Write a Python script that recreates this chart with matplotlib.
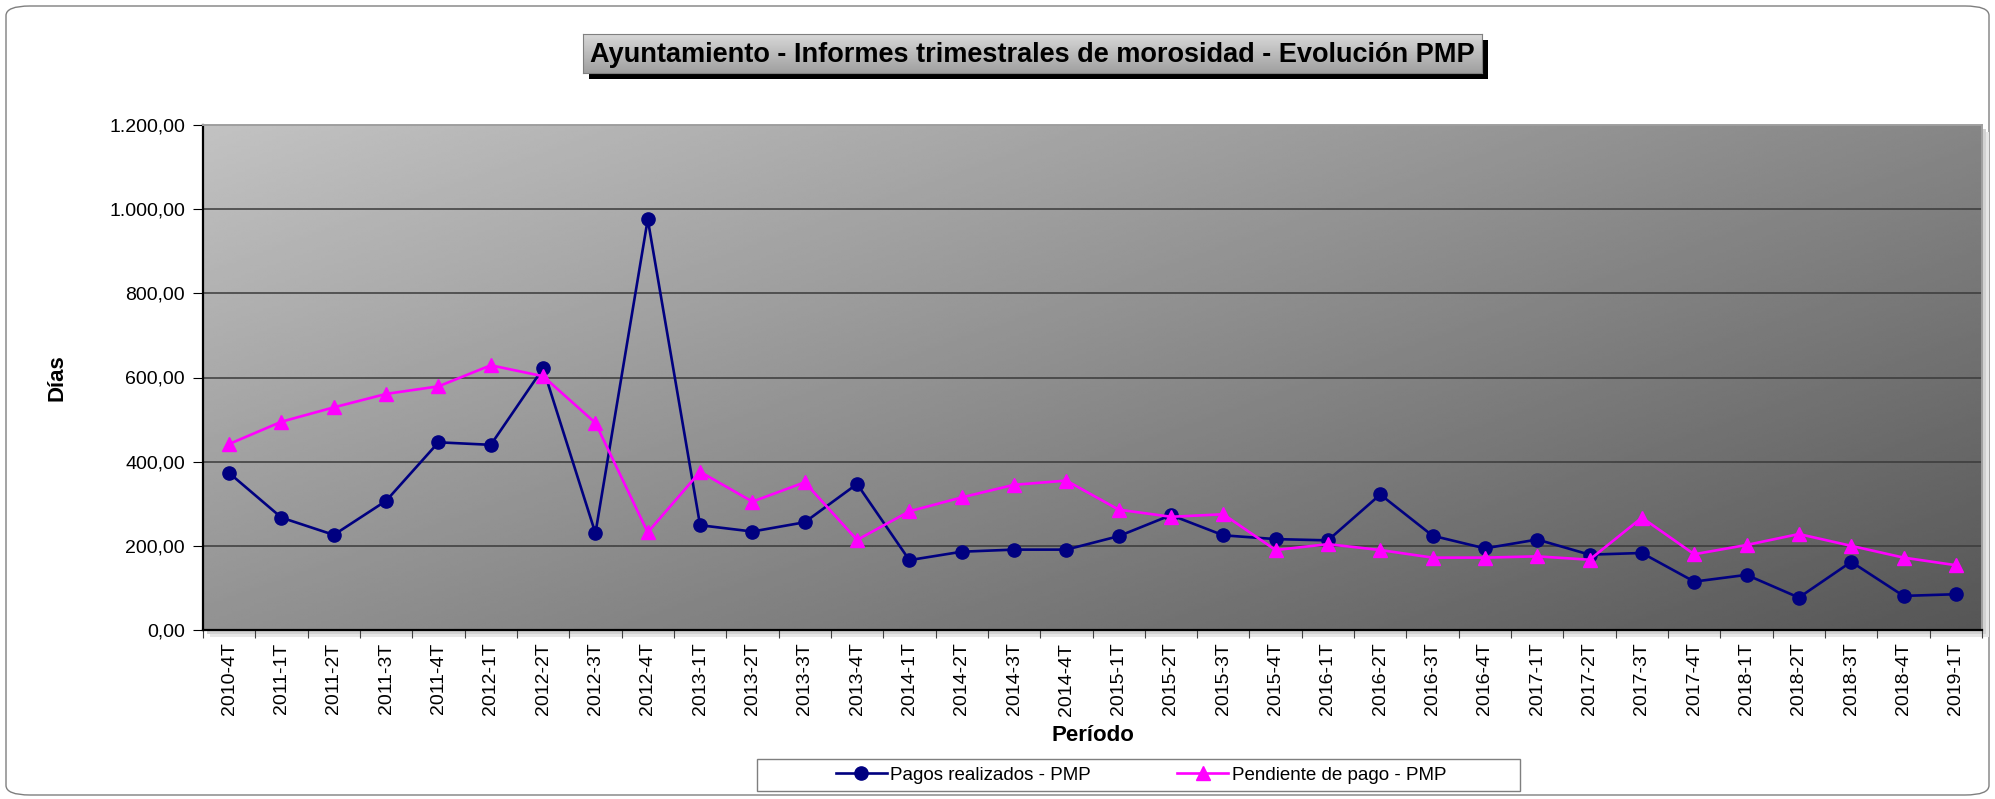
import numpy as np
import matplotlib
matplotlib.use("Agg")
import matplotlib.pyplot as plt
from matplotlib.patches import FancyBboxPatch, Rectangle
from matplotlib.ticker import FuncFormatter, FixedLocator

plt.rcParams["font.family"] = ["Liberation Sans", "DejaVu Sans"]

# --- data ---
periodos = ["2010-4T",
            "2011-1T", "2011-2T", "2011-3T", "2011-4T",
            "2012-1T", "2012-2T", "2012-3T", "2012-4T",
            "2013-1T", "2013-2T", "2013-3T", "2013-4T",
            "2014-1T", "2014-2T", "2014-3T", "2014-4T",
            "2015-1T", "2015-2T", "2015-3T", "2015-4T",
            "2016-1T", "2016-2T", "2016-3T", "2016-4T",
            "2017-1T", "2017-2T", "2017-3T", "2017-4T",
            "2018-1T", "2018-2T", "2018-3T", "2018-4T",
            "2019-1T"]
pagos_realizados = [373, 267, 226, 307, 446, 440, 622, 230, 976, 249, 234,
                    256, 347, 166, 186, 191, 191, 223, 273, 225, 216, 213,
                    322, 224, 194, 215, 179, 183, 115, 131, 77, 162, 81, 85]
pendiente_pago = [442, 495, 529, 561, 579, 629, 603, 492, 232, 376, 305,
                  351, 214, 282, 315, 345, 355, 286, 269, 275, 190, 204,
                  190, 172, 172, 175, 167, 267, 180, 202, 228, 200, 172, 154]
y_ticks = [0, 200, 400, 600, 800, 1000, 1200]

NAVY, MAGENTA = "#000080", "#ff00ff"
W, H = 1995, 799


def es_num(v, _pos=None):
    s = f"{v:,.2f}"
    return s.replace(",", "X").replace(".", ",").replace("X", ".")


fig = plt.figure(figsize=(W / 100, H / 100), dpi=100)

# outer rounded frame
fig.patches.append(FancyBboxPatch((6 / W, 4 / H), (W - 12) / W, (H - 10) / H,
                                  boxstyle="round,pad=0,rounding_size=0.012",
                                  transform=fig.transFigure, fc="white",
                                  ec="#7f7f7f", lw=1.0, zorder=-10))

# plot area + soft shadow
L, R, T, B = 203, 1982, 125, 630
pos = [L / W, 1 - B / H, (R - L) / W, (B - T) / H]
for off, col in [(7, "#e6e6e6"), (4, "#d2d2d2")]:
    fig.patches.append(Rectangle(((L + off) / W, 1 - (B + off) / H), (R - L) / W,
                                 (B - T) / H, transform=fig.transFigure,
                                 fc=col, ec="none", zorder=-5))
ax = fig.add_axes(pos)

u = np.linspace(0, 1, 400)[None, :]
v = np.linspace(0, 1, 200)[:, None]
grad = 194 - 60 * u - 48 * v
ax.imshow(grad, extent=[0, 1, 0, 1], transform=ax.transAxes, aspect="auto",
          cmap="gray", vmin=0, vmax=255, zorder=0, interpolation="bilinear")

x = np.arange(len(periodos))
ax.plot(x, pagos_realizados, color=NAVY, lw=1.9, marker="o", ms=9.5,
        label="Pagos realizados - PMP", zorder=3)
ax.plot(x, pendiente_pago, color=MAGENTA, lw=1.9, marker="^", ms=10,
        label="Pendiente de pago - PMP", zorder=4)

ax.set_xlim(-0.5, len(periodos) - 0.5)
ax.set_ylim(0, 1200)
ax.set_yticks(y_ticks)
ax.yaxis.set_major_formatter(FuncFormatter(es_num))
ax.xaxis.set_major_locator(FixedLocator(np.arange(-0.5, len(periodos), 1.0)))
ax.xaxis.set_major_formatter(FuncFormatter(lambda v, p: ""))
ax.xaxis.set_minor_locator(FixedLocator(x))
ax.set_xticklabels(periodos, minor=True, rotation=90)
ax.tick_params(axis="x", which="minor", length=0, pad=9, labelsize=14)
ax.tick_params(axis="x", which="major", length=6, color="#404040")
ax.tick_params(axis="y", length=7, labelsize=14, pad=6)
ax.grid(axis="y", color="#3a3a3a", lw=1.1)
ax.set_axisbelow(True)
for side in ["top", "right"]:
    ax.spines[side].set_color("#a0a0a0")
    ax.spines[side].set_linewidth(1.4)
ax.spines["left"].set_linewidth(1.6)
ax.spines["bottom"].set_linewidth(1.6)

ax.set_ylabel("Días", fontsize=16, fontweight="bold")
ax.yaxis.set_label_coords((67 - L) / (R - L), 0.5)
ax.set_xlabel("Período", fontsize=16, fontweight="bold")
ax.xaxis.set_label_coords(0.5, (B - 725) / (B - T))

# title box with shadow
tl, tr, tt, tb = 583, 1482, 34, 73
fig.patches.append(Rectangle(((tl + 6) / W, 1 - (tb + 6) / H), (tr - tl) / W,
                             (tb - tt) / H, transform=fig.transFigure,
                             fc="black", ec="none", zorder=-4))
tax = fig.add_axes([tl / W, 1 - tb / H, (tr - tl) / W, (tb - tt) / H])
tg = np.linspace(215, 160, 50)[:, None] * np.ones((1, 10))
tax.imshow(tg, extent=[0, 1, 0, 1], aspect="auto", cmap="gray", vmin=0,
           vmax=255, interpolation="bilinear")
tax.set_xticks([])
tax.set_yticks([])
for s in tax.spines.values():
    s.set_color("#808080")
tax.text(0.5, 0.46, "Ayuntamiento - Informes trimestrales de morosidad - Evolución PMP",
         ha="center", va="center", fontsize=19.5, fontweight="bold",
         transform=tax.transAxes)

# legend: wide frame drawn separately, entries centred inside
fig.patches.append(Rectangle((757 / W, 1 - 791 / H), (1520 - 757) / W, 32 / H,
                             transform=fig.transFigure, fc="white",
                             ec="#7f7f7f", lw=1.0, zorder=-3))
leg = fig.legend(loc="center", bbox_to_anchor=(1141 / W, 1 - 775 / H), ncol=2,
                 frameon=False, prop={"size": 13.5}, handlelength=2.7,
                 handletextpad=0.2, columnspacing=4.6, borderpad=0.2)

fig.savefig("out.png", dpi=100)
